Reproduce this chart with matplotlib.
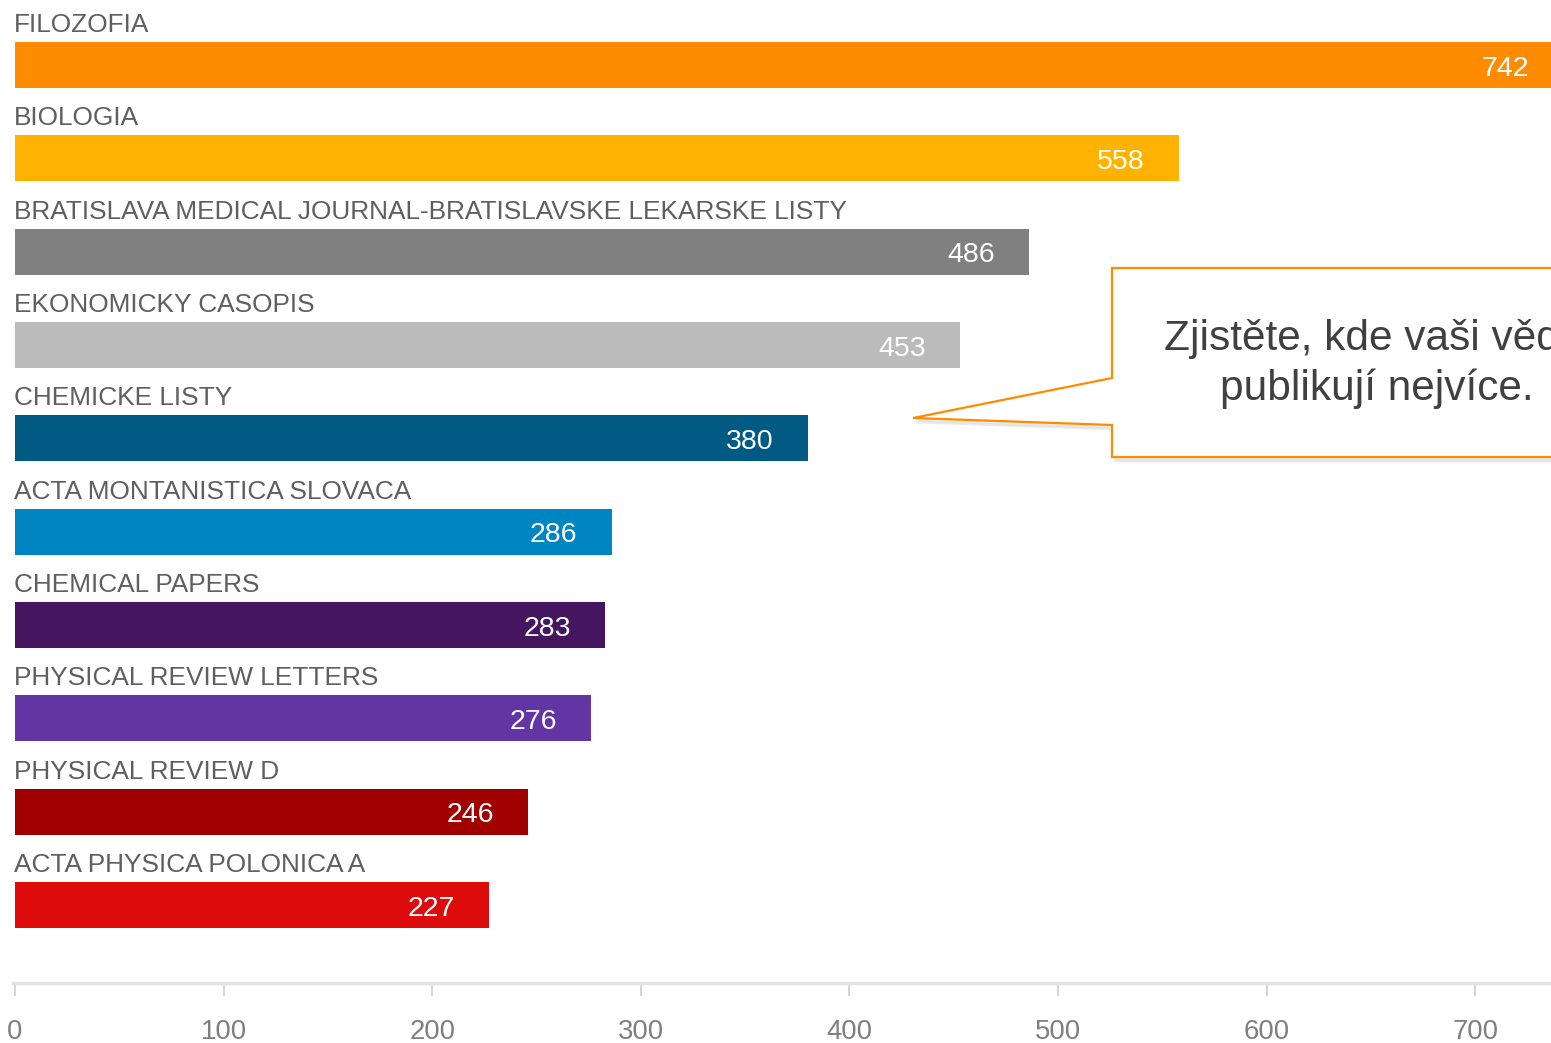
import matplotlib.pyplot as plt
from matplotlib.patches import Polygon

# Data
journals = ['FILOZOFIA', 'BIOLOGIA',
            'BRATISLAVA MEDICAL JOURNAL-BRATISLAVSKE LEKARSKE LISTY',
            'EKONOMICKY CASOPIS', 'CHEMICKE LISTY',
            'ACTA MONTANISTICA SLOVACA', 'CHEMICAL PAPERS',
            'PHYSICAL REVIEW LETTERS', 'PHYSICAL REVIEW D',
            'ACTA PHYSICA POLONICA A']
counts = [742, 558, 486, 453, 380, 286, 283, 276, 246, 227]
colors = ['#FF8C00', '#FFB300', '#808080', '#BBBBBB', '#005A84',
          '#0085C3', '#461560', '#6234A4', '#A00000', '#DD0B0B']
ticks = [0, 100, 200, 300, 400, 500, 600, 700]
callout = 'Zjistěte, kde vaši vědci\npublikují nejvíce.'

plt.rcParams['font.family'] = ['Liberation Sans', 'DejaVu Sans']

W, H = 1551, 1043
fig = plt.figure(figsize=(W / 100, H / 100), dpi=100)
ax = fig.add_axes([0, 60 / H, 1, 983 / H])

pos = list(range(len(journals)))
ax.barh(pos, counts, height=0.493, color=colors, left=0)

for i, (name, val) in enumerate(zip(journals, counts)):
    ax.text(-0.6, i - 0.354, name, ha='left', va='baseline',
            fontsize=18.9, color='#5f5f5f')
    ax.annotate(str(val), xy=(val, i + 0.115), xytext=(-34, 0),
                textcoords='offset pixels', ha='right', va='baseline',
                fontsize=20.5, color='white', annotation_clip=False)

ax.set_xlim(-15 / 2.086, 1536 / 2.086)
ax.set_ylim(9.836, -0.696)
ax.set_yticks([])
ax.set_xticks(ticks)
ax.set_xticklabels([str(t) for t in ticks])
ax.tick_params(axis='x', length=9, width=1.5, color='#d6d6d6',
               labelsize=19.8, labelcolor='#7f7f7f', pad=17)
for s in ['top', 'right', 'left']:
    ax.spines[s].set_visible(False)
ax.spines['bottom'].set_color('#e3e3e3')
ax.spines['bottom'].set_linewidth(2.5)
ax.spines['bottom'].set_bounds(-1, 740)

# callout box
pts = [(1112, 268), (1570, 268), (1570, 457), (1112, 457),
       (1112, 425), (913, 418), (1112, 378)]
shadow = [((x + 3) / W, 1 - (y + 4) / H) for x, y in pts]
box = [(x / W, 1 - y / H) for x, y in pts]
fig.patches.append(Polygon(shadow, closed=True, transform=fig.transFigure,
                           facecolor='#dedede', edgecolor='#dedede',
                           linewidth=2, alpha=0.6))
fig.patches.append(Polygon(box, closed=True, transform=fig.transFigure,
                           facecolor='white', edgecolor='#FF8C00',
                           linewidth=1.6))
fig.text(1377 / W, 1 - 364 / H, callout, ha='center', va='center',
         fontsize=30.5, color='#404040', linespacing=1.3)

fig.savefig('out.png', dpi=100)
